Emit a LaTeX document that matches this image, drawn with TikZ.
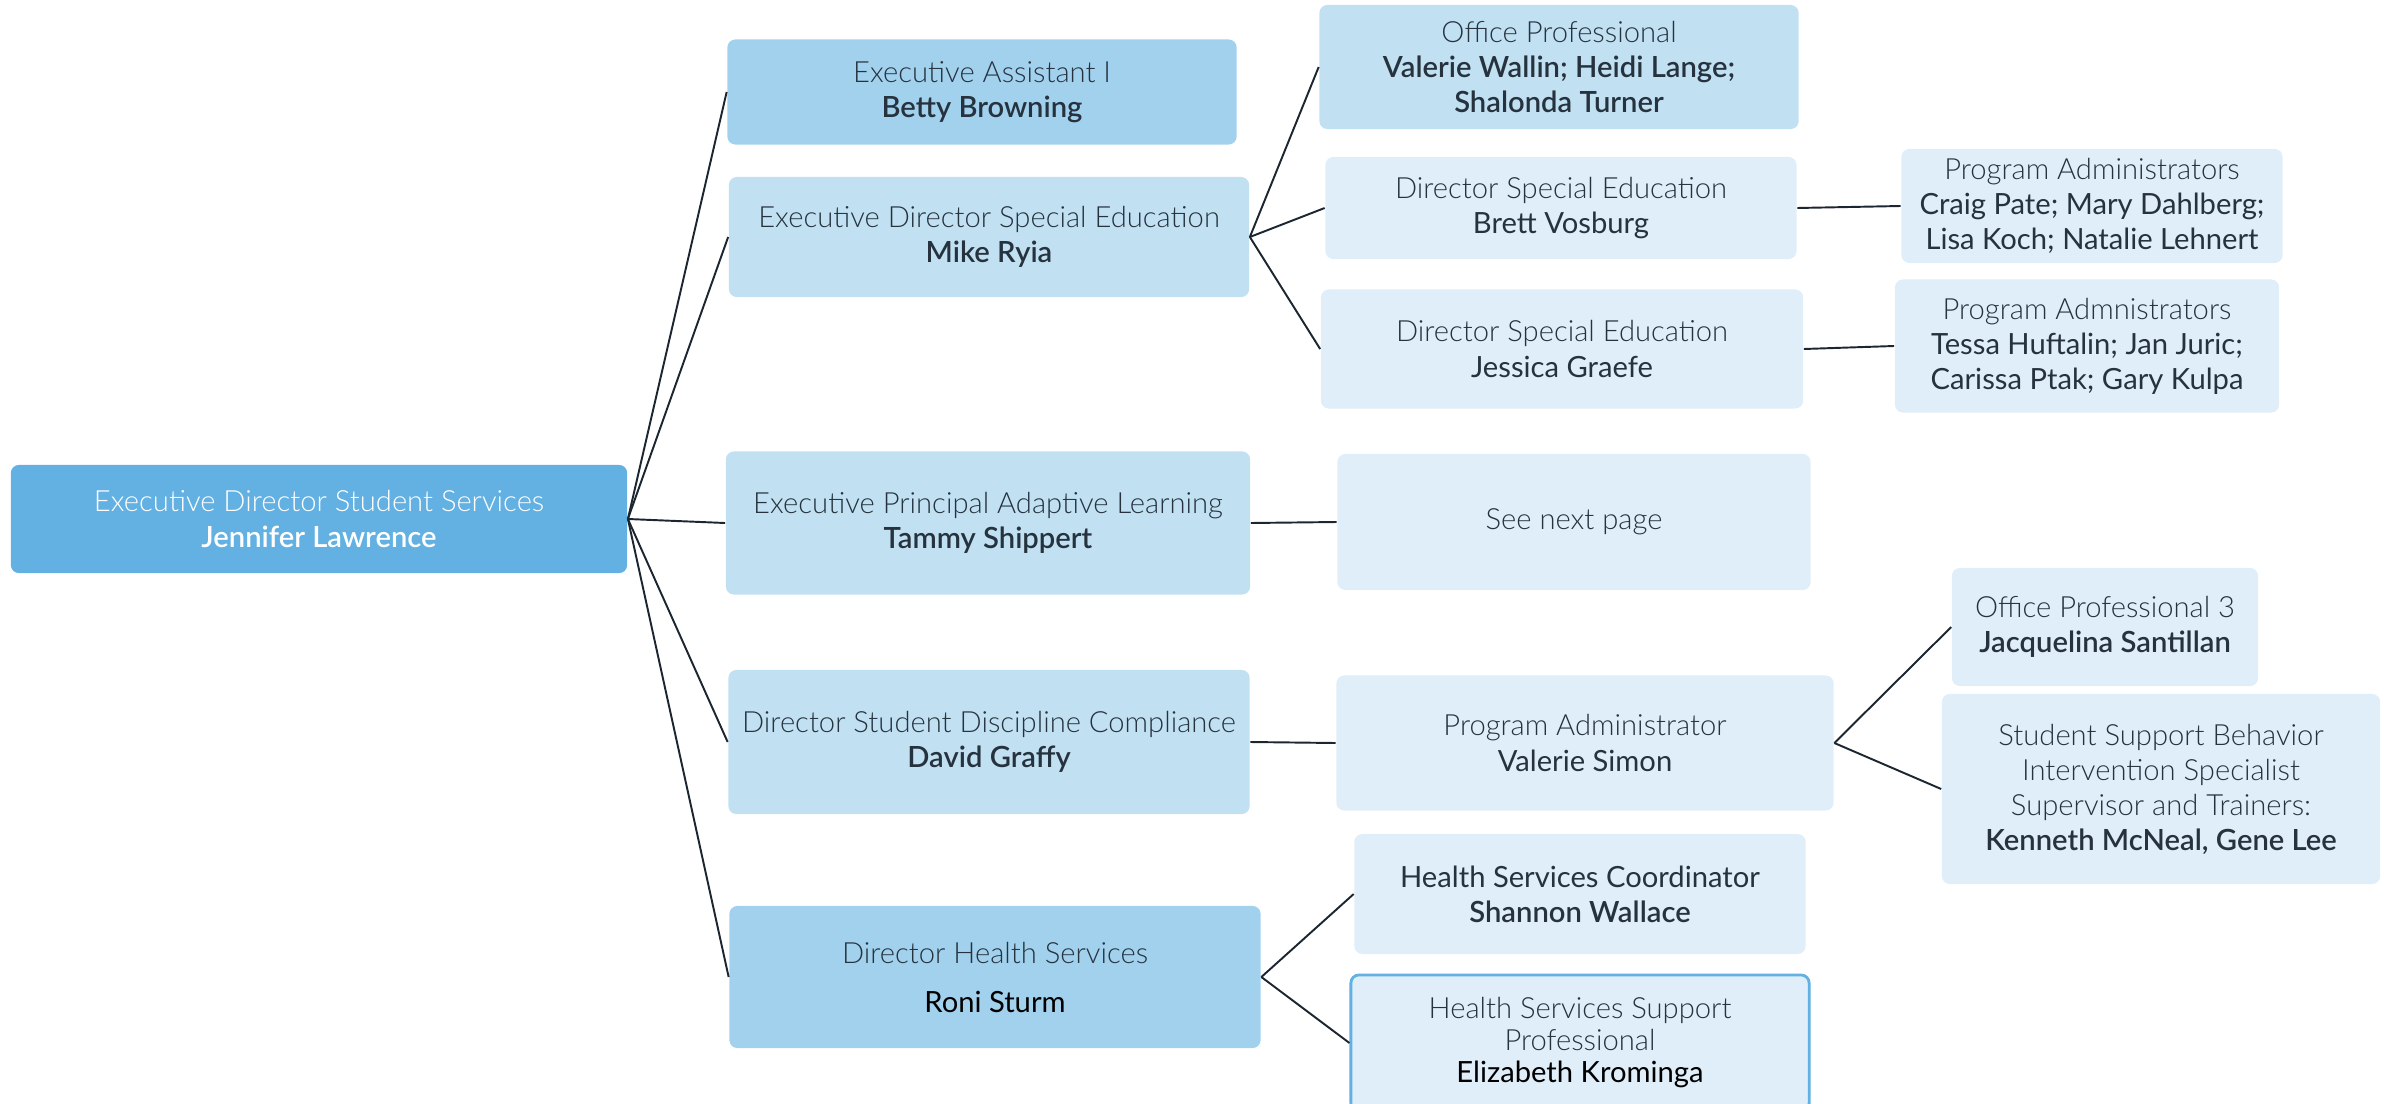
\documentclass[tikz,border=0pt]{standalone}
\usepackage{fontspec}
\setmainfont{Lato}
\newfontfamily\lightfont{Lato Light}
\newfontfamily\namefont{Lato Semibold}
\usepackage{tikz}
\usetikzlibrary{positioning}
\usepackage{xcolor}
\definecolor{rootblue}{HTML}{62B1E2}
\definecolor{deepblue}{HTML}{A2D1EE}
\definecolor{midblue}{HTML}{C1E1F3}
\definecolor{paleblue}{HTML}{DFEEF8}
\definecolor{inktext}{HTML}{26333F}
\definecolor{linkline}{HTML}{1C2631}
\tikzset{
  orgbox/.style={rounded corners=0.08cm, inner sep=0pt, align=center, text=inktext,
    font=\fontsize{8.3}{9.96}\selectfont},
  every edge/.style={draw=linkline, line width=0.55pt},
}
\newcommand{\role}[1]{{\lightfont #1}}
\newcommand{\who}[1]{{\namefont #1}}

\begin{document}
\begin{tikzpicture}[x=0.01cm, y=-0.01cm]
                \useasboundingbox (0,0) rectangle (2397,1103);
                % first level
                \node[orgbox, fill=rootblue, text=white, minimum width=6.16cm, minimum height=1.08cm](root) at (319,519){\role{Executive Director Student Services}\\\who{Jennifer Lawrence}};
                \node[orgbox, fill=deepblue, minimum width=5.09cm, minimum height=1.05cm](ea) at (982,92){\role{Executive Assistant I}\\\who{Betty Browning}};
                \node[orgbox, fill=midblue, minimum width=5.20cm, minimum height=1.20cm](edse) at (989,237){\role{Executive Director Special Education}\\\who{Mike Ryia}};
                \node[orgbox, fill=midblue, minimum width=5.24cm, minimum height=1.43cm](epal) at (988,523){\role{Executive Principal Adaptive Learning}\\\who{Tammy Shippert}};
                \node[orgbox, fill=midblue, minimum width=5.21cm, minimum height=1.44cm](dsdc) at (989,742){\role{Director Student Discipline Compliance}\\\who{David Graffy}};
                \node[orgbox, fill=deepblue, minimum width=5.31cm, minimum height=1.42cm](dhs) at (995,977){\role{Director Health Services}\\[0.14cm]\textcolor{black}{Roni Sturm}};
                % second level
                \node[orgbox, fill=midblue, minimum width=4.79cm, minimum height=1.24cm](op) at (1559,67){\role{Office Professional}\\\who{Valerie Wallin; Heidi Lange;}\\\who{Shalonda Turner}};
                \node[orgbox, fill=paleblue, minimum width=4.71cm, minimum height=1.02cm](dse1) at (1561,208){\role{Director Special Education}\\Brett Vosburg};
                \node[orgbox, fill=paleblue, minimum width=4.82cm, minimum height=1.19cm](dse2) at (1562,349){\role{Director Special Education}\\Jessica Graefe};
                \node[orgbox, fill=paleblue, minimum width=4.73cm, minimum height=1.36cm](snp) at (1574,522){\role{See next page}};
                \node[orgbox, fill=paleblue, minimum width=4.97cm, minimum height=1.35cm](pa) at (1585,743){\role{Program Administrator}\\Valerie Simon};
                \node[orgbox, fill=paleblue, minimum width=4.51cm, minimum height=1.20cm](hsc) at (1580,894){Health Services Coordinator\\\who{Shannon Wallace}};
                \node[orgbox, fill=paleblue, draw=rootblue, line width=0.8pt, minimum width=4.58cm, minimum height=1.36cm](hssp) at (1580,1043){\role{Health Services Support}\\[-0.03cm]\role{Professional}\\[-0.03cm]\textcolor{black}{Elizabeth Krominga}};
                % third level
                \node[orgbox, fill=paleblue, minimum width=3.81cm, minimum height=1.14cm](pa1) at (2092,206){\role{Program Administrators}\\Craig Pate; Mary Dahlberg;\\Lisa Koch; Natalie Lehnert};
                \node[orgbox, fill=paleblue, minimum width=3.84cm, minimum height=1.33cm](pa2) at (2087,346){\role{Program Admnistrators}\\Tessa Huftalin; Jan Juric;\\Carissa Ptak; Gary Kulpa};
                \node[orgbox, fill=paleblue, minimum width=3.06cm, minimum height=1.18cm](op3) at (2105,627){\role{Office Professional 3}\\\who{Jacquelina Santillan}};
                \node[orgbox, fill=paleblue, minimum width=4.38cm, minimum height=1.90cm](ssb) at (2161,789){\role{Student Support Behavior}\\\role{Intervention Specialist}\\\role{Supervisor and Trainers:}\\\who{Kenneth McNeal, Gene Lee}};
                % links
                \path (root.east) edge (ea.west);
                \path (root.east) edge (edse.west);
                \path (root.east) edge (epal.west);
                \path (root.east) edge (dsdc.west);
                \path (root.east) edge (dhs.west);
                \path (edse.east) edge (op.west);
                \path (edse.east) edge (dse1.west);
                \path (edse.east) edge (dse2.west);
                \path (dse1.east) edge (pa1.west);
                \path (dse2.east) edge (pa2.west);
                \path (epal.east) edge (snp.west);
                \path (dsdc.east) edge (pa.west);
                \path (pa.east) edge (op3.west);
                \path (pa.east) edge (ssb.west);
                \path (dhs.east) edge (hsc.west);
                \path (dhs.east) edge (hssp.west);
                \end{tikzpicture}
\end{document}
